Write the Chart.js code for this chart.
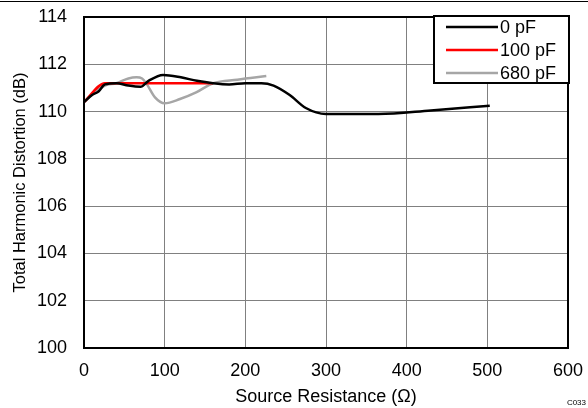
<!DOCTYPE html>
<html><head><meta charset="utf-8">
<script src="https://cdn.jsdelivr.net/npm/chart.js@4/dist/chart.umd.min.js"></script>
<style>html,body{margin:0;padding:0;background:#fff}#wrap{width:588px;height:408px;position:relative}</style>
</head><body><div id="wrap"><canvas id="c" width="588" height="408"></canvas></div>
<script>
const seriesLabels = ["0 pF", "100 pF", "680 pF"];
const x0pF = [0, 10, 18, 26, 40, 55, 70, 80, 98, 120, 140, 160, 180, 200, 220, 235, 255, 275, 300, 365, 430, 503];
const y0pF = [110.4, 110.7, 110.85, 111.15, 111.2, 111.1, 111.05, 111.3, 111.55, 111.45, 111.3, 111.2, 111.15, 111.2, 111.2, 111.1, 110.7, 110.15, 109.9, 109.9, 110.05, 110.25];
const x100pF = [0, 26, 60, 100, 160];
const y100pF = [110.4, 111.2, 111.2, 111.2, 111.2];
const x680pF = [0, 12, 26, 40, 55, 65, 72, 78, 88, 100, 119, 139, 160, 190, 226];
const y680pF = [110.4, 110.8, 111.1, 111.2, 111.4, 111.45, 111.4, 111.15, 110.6, 110.35, 110.53, 110.81, 111.2, 111.35, 111.5];
const xTicks = [0, 100, 200, 300, 400, 500, 600];
const yTicks = [100, 102, 104, 106, 108, 110, 112, 114];
const colors = ["#000000", "#ff0000", "#a6a6a6"];

const pts = (xs, ys) => xs.map((x, i) => ({x: x, y: ys[i]}));
const FONT = "'Liberation Sans', Arial, sans-serif";
const noPad = s => { s.paddingLeft = 0; s.paddingRight = 0; s.paddingTop = 0; s.paddingBottom = 0; };

const extras = {
  id: 'extras',
  afterDraw(chart) {
    const ctx = chart.ctx, ca = chart.chartArea;
    ctx.save();
    // top rule
    ctx.strokeStyle = '#000'; ctx.lineWidth = 1;
    ctx.beginPath(); ctx.moveTo(0, 1.5); ctx.lineTo(588, 1.5); ctx.stroke();
    // plot border
    ctx.lineWidth = 2;
    ctx.strokeRect(ca.left, ca.top, ca.right - ca.left, ca.bottom - ca.top);
    // legend
    const lx = 434, ly = 16, lw = 135, lh = 67;
    ctx.fillStyle = '#fff'; ctx.fillRect(lx, ly, lw, lh);
    ctx.strokeRect(lx, ly, lw, lh);
    ctx.font = '18px ' + FONT; ctx.textBaseline = 'middle'; ctx.textAlign = 'left';
    chart.data.datasets.forEach((ds, i) => {
      const yy = 27 + i * 23;
      ctx.strokeStyle = ds.borderColor; ctx.lineWidth = 2.5;
      ctx.beginPath(); ctx.moveTo(446, yy); ctx.lineTo(498, yy); ctx.stroke();
      ctx.fillStyle = '#000'; ctx.fillText(ds.label, 500, yy + 1);
    });
    // code label
    ctx.font = '8px ' + FONT; ctx.textAlign = 'right'; ctx.textBaseline = 'alphabetic';
    ctx.fillText('C033', 586, 405);
    ctx.restore();
  }
};

new Chart(document.getElementById('c'), {
  type: 'line',
  data: {
    datasets: [
      {label: seriesLabels[0], data: pts(x0pF, y0pF), borderColor: colors[0]},
      {label: seriesLabels[1], data: pts(x100pF, y100pF), borderColor: colors[1]},
      {label: seriesLabels[2], data: pts(x680pF, y680pF), borderColor: colors[2]}
    ].map(d => Object.assign(d, {borderWidth: 2.5, pointRadius: 0, fill: false, cubicInterpolationMode: 'monotone'}))
  },
  options: {
    responsive: false, animation: false,
    layout: {padding: {top: 17, right: 20, left: 0, bottom: 0}},
    plugins: {legend: {display: false}, tooltip: {enabled: false}},
    scales: {
      x: {
        type: 'linear', min: 0, max: 600,
        afterBuildTicks: s => { s.ticks = xTicks.map(v => ({value: v})); },
        grid: {color: '#808080', lineWidth: 1, drawTicks: false},
        border: {display: false},
        ticks: {color: '#000', font: {family: FONT, size: 18}, padding: 12, maxRotation: 0},
        title: {display: true, text: 'Source Resistance (Ω)', color: '#000', font: {family: FONT, size: 18}, padding: {top: 0, bottom: 0}},
        afterFit: s => { s.height = 60; noPad(s); }
      },
      y: {
        min: 100, max: 114,
        afterBuildTicks: s => { s.ticks = yTicks.map(v => ({value: v})); },
        grid: {color: '#808080', lineWidth: 1, drawTicks: false},
        border: {display: false},
        ticks: {color: '#000', font: {family: FONT, size: 18}, padding: 17},
        title: {display: true, text: 'Total Harmonic Distortion (dB)', color: '#000', font: {family: FONT, size: 16.5}, padding: {top: 11, bottom: 0}},
        afterFit: s => { s.width = 84; noPad(s); }
      }
    }
  },
  plugins: [extras]
});
</script></body></html>
